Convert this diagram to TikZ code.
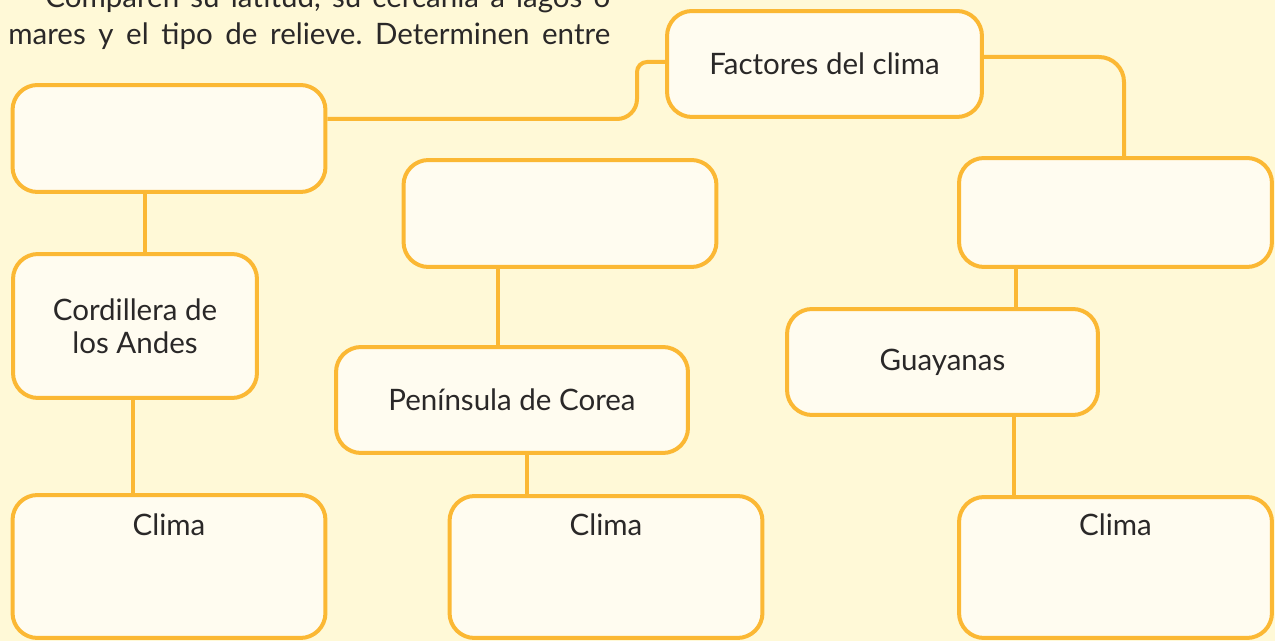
\documentclass[tikz,border=0pt]{standalone}
\usepackage{fontspec}
\setmainfont{Lato}
\usepackage{xcolor}
\usetikzlibrary{positioning}

\definecolor{fondo}{RGB}{255,249,215}
\definecolor{relleno}{RGB}{255,252,240}
\definecolor{naranja}{RGB}{251,184,52}
\definecolor{tinta}{RGB}{42,40,40}

\tikzset{
  caja/.style={draw=naranja, fill=relleno, line width=0.08cm, rounded corners=0.5cm,
    rectangle, align=center, text=tinta, inner sep=0pt},
  ancha/.style={caja, minimum width=6.26cm},
  enlace/.style={draw=naranja, line width=0.08cm},
  texto/.style={text=tinta, inner sep=0pt}
}

\begin{document}
\frenchspacing
\begin{tikzpicture}[x=0.02cm, y=-0.02cm, font=\fontsize{16.8}{19}\selectfont]
        \useasboundingbox (0,0) rectangle (1275,641);
        \fill[fondo] (0,0) rectangle (1275,641);
        % texto de la consigna
        \node[texto, anchor=base west] (intro1) at (45,8)
          {\makebox[11.3cm][s]{Comparen su latitud, su cercanía a lagos o}};
        \node[texto, anchor=base west] (intro2) at (8,45)
          {\makebox[12.04cm][s]{mares y el tipo de relieve. Determinen entre}};
        % cajas
        \node[caja, minimum width=6.3cm, minimum height=2.12cm] (fac) at (824.5,64) {Factores del clima};
        \node[ancha, minimum height=2.14cm] (b1) at (169,138.5) {};
        \node[ancha, minimum height=2.14cm] (b2) at (560,213.5) {};
        \node[ancha, minimum height=2.18cm] (b3) at (1115.5,212.5) {};
        \node[caja, minimum width=4.88cm, minimum height=2.88cm] (and) at (135,326) {Cordillera de\\los Andes};
        \node[caja, minimum width=7.04cm, minimum height=2.12cm] (cor) at (512,400) {Península de Corea};
        \node[caja, minimum width=6.22cm, minimum height=2.12cm] (guy) at (942.5,362) {Guayanas};
        \node[ancha, minimum height=2.86cm] (cl1) at (169,566.5) {};
        \node[ancha, minimum height=2.84cm] (cl2) at (606,567) {};
        \node[ancha, minimum height=2.82cm] (cl3) at (1115.5,567.5) {};
        \node[texto, anchor=base] (cl1t) at ([yshift=-0.84cm]cl1.north) {Clima};
        \node[texto, anchor=base] (cl2t) at ([yshift=-0.82cm]cl2.north) {Clima};
        \node[texto, anchor=base] (cl3t) at ([yshift=-0.8cm]cl3.north) {Clima};
        % enlaces
        \draw[enlace, rounded corners=0.4cm] (b1.east |- 0,119) -- (637,119)
          [rounded corners=0.2cm] -- (637,62) -- (fac.west |- 0,62);
        \draw[enlace, rounded corners=0.5cm] (fac.east |- 0,57) -- (1124,57) -- (b3.north -| 1124,0);
        \draw[enlace] (b1.south -| 145,0) -- (and.north -| 145,0);
        \draw[enlace] (and.south -| 133,0) -- (cl1.north -| 133,0);
        \draw[enlace] (b2.south -| 498,0) -- (cor.north -| 498,0);
        \draw[enlace] (cor.south -| 527,0) -- (cl2.north -| 527,0);
        \draw[enlace] (b3.south -| 1016,0) -- (guy.north -| 1016,0);
        \draw[enlace] (guy.south -| 1014,0) -- (cl3.north -| 1014,0);
    \end{tikzpicture}
\end{document}
